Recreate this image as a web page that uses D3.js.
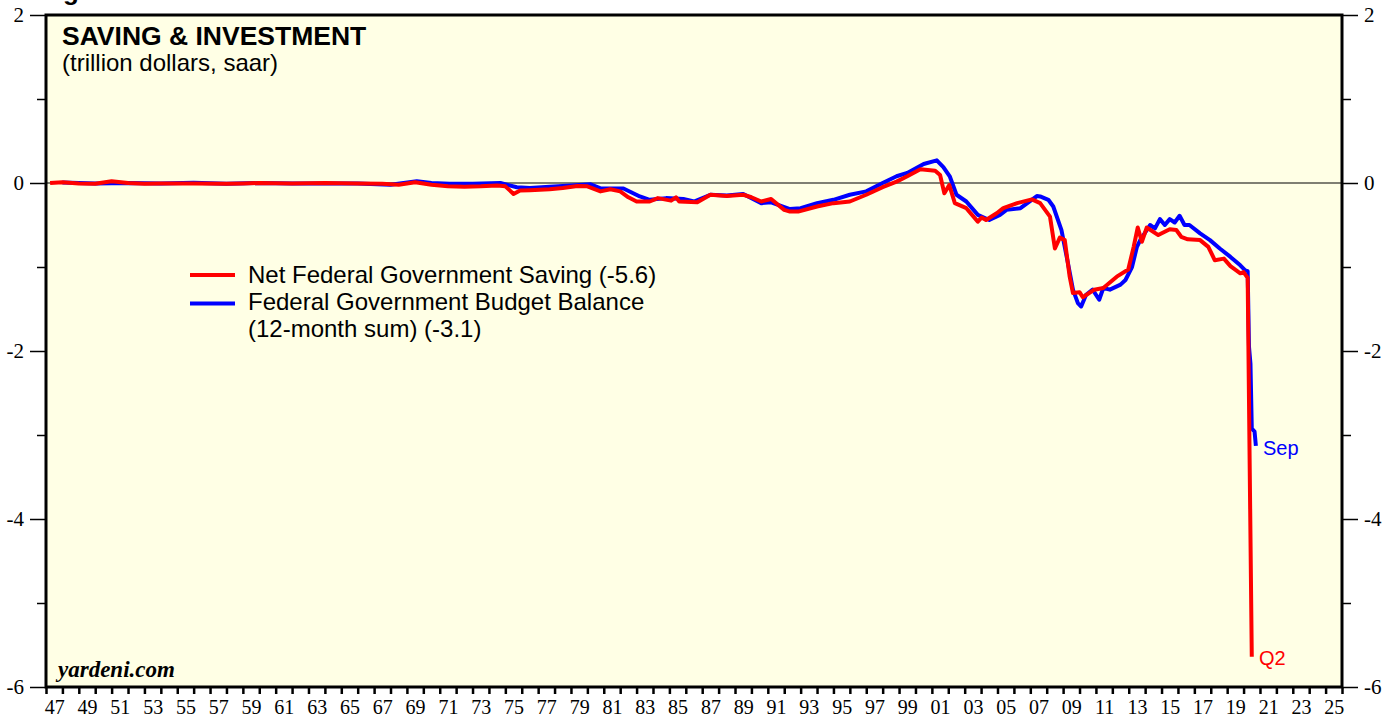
<!DOCTYPE html>
<html>
<head>
<meta charset="utf-8">
<script src="https://cdn.jsdelivr.net/npm/d3@7"></script>
<style>
html,body{margin:0;padding:0;background:#fff;}
svg{display:block;}
</style>
</head>
<body>
<svg id="chart" width="1397" height="721"></svg>
<script>
// ---- Data (trillion dollars, saar) ----
// Net Federal Government Saving (quarterly)
const savingYears = [1947.25,1948,1949,1950,1951,1952,1953,1954,1956,1958,1959,1960,1962,1964,1966,1967.5,1968.5,1969.5,1970.5,1971.5,1972.5,1973.5,1974.5,1975.0,1975.5,1975.9,1976.5,1977.7,1978.5,1979.4,1980.0,1980.8,1981.4,1982.0,1982.5,1983.0,1983.8,1984.3,1985.1,1985.4,1985.6,1986.7,1987.5,1988.5,1989.5,1990.0,1990.6,1991.2,1992.0,1992.35,1992.85,1994.0,1995.0,1996.0,1997.0,1998.0,1998.85,1999.5,2000.07,2000.3,2001.2,2001.5,2001.76,2002.06,2002.4,2003.1,2003.8,2004.04,2004.3,2004.95,2005.35,2006.2,2007.1,2007.6,2008.2,2008.5,2008.8,2009.1,2009.4,2009.6,2010.0,2010.2,2010.9,2011.45,2012.27,2012.97,2013.3,2013.55,2013.8,2014.1,2014.8,2015.5,2015.9,2016.2,2016.6,2017.35,2017.85,2018.25,2018.8,2019.2,2019.8,2020.0,2020.25,2020.5];
const savingValues = [0.00,0.01,-0.005,-0.01,0.02,0.00,-0.01,-0.005,-0.005,-0.01,-0.005,0.0,-0.005,0.0,-0.005,-0.01,-0.02,0.01,-0.02,-0.04,-0.045,-0.04,-0.03,-0.04,-0.13,-0.09,-0.085,-0.075,-0.06,-0.036,-0.04,-0.10,-0.075,-0.10,-0.17,-0.22,-0.22,-0.18,-0.21,-0.17,-0.22,-0.23,-0.14,-0.155,-0.14,-0.17,-0.22,-0.19,-0.32,-0.34,-0.34,-0.28,-0.24,-0.22,-0.14,-0.05,0.016,0.08,0.14,0.163,0.147,0.095,-0.123,-0.024,-0.24,-0.30,-0.46,-0.41,-0.44,-0.36,-0.30,-0.24,-0.195,-0.24,-0.40,-0.78,-0.65,-0.68,-1.115,-1.31,-1.30,-1.36,-1.27,-1.25,-1.115,-1.03,-0.76,-0.53,-0.70,-0.53,-0.62,-0.55,-0.56,-0.64,-0.67,-0.68,-0.76,-0.92,-0.90,-0.99,-1.075,-1.06,-1.13,-5.64];

// Federal Government Budget Balance, 12-month sum (monthly)
const budgetYears = [1948,1950,1952,1954,1956,1958,1960,1962,1964,1966,1968,1969.6,1970.5,1971.6,1973,1974.7,1975.7,1976.5,1977.7,1979,1980.2,1980.8,1982.2,1983.2,1983.8,1984.8,1985.85,1986.5,1987.5,1988.5,1989.5,1990.6,1991.2,1992.35,1993.0,1994.0,1995.0,1996.0,1997.0,1998.0,1998.85,1999.5,2000.5,2001.3,2001.7,2002.1,2002.5,2003.1,2003.8,2004.5,2005.15,2005.55,2006.4,2007.4,2007.6,2008.1,2008.4,2008.9,2009.3,2009.6,2009.9,2010.1,2010.4,2010.8,2011.2,2011.45,2011.85,2012.5,2012.8,2013.2,2013.5,2013.7,2014.3,2014.6,2014.9,2015.2,2015.5,2015.8,2016.1,2016.4,2016.7,2017.35,2017.95,2018.55,2019.2,2019.8,2020.1,2020.25,2020.33,2020.42,2020.5,2020.58,2020.67,2020.75];
const budgetValues = [0.005,-0.005,0.0,-0.005,0.003,-0.01,0.0,-0.005,-0.005,-0.005,-0.02,0.02,0.0,-0.01,-0.01,0.0,-0.05,-0.06,-0.045,-0.03,-0.015,-0.065,-0.065,-0.16,-0.20,-0.18,-0.19,-0.22,-0.14,-0.15,-0.13,-0.24,-0.23,-0.31,-0.30,-0.24,-0.20,-0.14,-0.10,0.00,0.08,0.12,0.226,0.27,0.19,0.075,-0.14,-0.22,-0.38,-0.44,-0.38,-0.32,-0.30,-0.155,-0.16,-0.20,-0.28,-0.56,-0.96,-1.27,-1.43,-1.47,-1.33,-1.27,-1.39,-1.25,-1.27,-1.21,-1.155,-1.0,-0.76,-0.68,-0.50,-0.54,-0.43,-0.50,-0.43,-0.47,-0.39,-0.50,-0.50,-0.60,-0.68,-0.78,-0.88,-0.98,-1.04,-1.05,-1.95,-2.15,-2.92,-2.94,-2.96,-3.13];

const yTicks = [2,0,-2,-4,-6];
const yMinorTicks = [1,-1,-3,-5];
const xTickYears = d3.range(1947, 2027);
const xLabelYears = d3.range(1947, 2026, 2);

const seriesNames = ["Net Federal Government Saving (-5.6)", "Federal Government Budget Balance", "(12-month sum) (-3.1)"];

// ---- Layout ----
const svg = d3.select("#chart");
const L = 46, R = 1342, T = 15, B = 687;
const x = d3.scaleLinear().domain([1947, 2026]).range([L, R]);
const y = d3.scaleLinear().domain([-6, 2]).range([B, T]);

// cropped heading above (cut off at the top edge, as in the original)
svg.append("text").attr("x", 63).attr("y", 0).attr("font-family", "Liberation Sans, Arial, sans-serif")
  .attr("font-weight", "bold").attr("font-size", 26).text("g");

// plot background
svg.append("rect").attr("x", L).attr("y", T).attr("width", R - L).attr("height", B - T).attr("fill", "#ffffe5");

// zero line
svg.append("line").attr("x1", L).attr("x2", R).attr("y1", y(0)).attr("y2", y(0)).attr("stroke", "#000").attr("stroke-width", 1.2);

// Axes
const serif = "Liberation Serif, Times New Roman, serif";
const leftAxis = d3.axisLeft(y).tickValues(yTicks).tickSize(16).tickPadding(6).tickFormat(d3.format("d"));
const gl = svg.append("g").attr("transform", `translate(${L},0)`).call(leftAxis);
const rightAxis = d3.axisRight(y).tickValues(yTicks).tickSize(16).tickPadding(6).tickFormat(d3.format("d"));
const gr = svg.append("g").attr("transform", `translate(${R},0)`).call(rightAxis);
[gl, gr].forEach(g => {
  g.select(".domain").remove();
  g.selectAll("line").attr("stroke", "#000").attr("stroke-width", 1.5);
  g.selectAll("text").attr("font-family", serif).attr("font-size", 21).attr("fill", "#000");
});
gl.selectAll("text").text(d => d < 0 ? "-" + Math.abs(d) : d);
gr.selectAll("text").text(d => d < 0 ? "-" + Math.abs(d) : d);
const gml = svg.append("g").attr("transform", `translate(${L},0)`).call(d3.axisLeft(y).tickValues(yMinorTicks).tickSize(9).tickFormat(""));
const gmr = svg.append("g").attr("transform", `translate(${R},0)`).call(d3.axisRight(y).tickValues(yMinorTicks).tickSize(9).tickFormat(""));
[gml, gmr].forEach(g => { g.select(".domain").remove(); g.selectAll("line").attr("stroke", "#000").attr("stroke-width", 1.5); });

// bottom axis: ticks every year, labels centred in the year
const gb = svg.append("g").attr("transform", `translate(0,${B})`)
  .call(d3.axisBottom(x).tickValues(xTickYears).tickSize(7).tickFormat(""));
gb.select(".domain").remove();
gb.selectAll("line").attr("stroke", "#000").attr("stroke-width", 2.5);
const gbl = svg.append("g").attr("transform", `translate(0,${B})`)
  .call(d3.axisBottom(x.copy().domain([1946.5, 2025.5])).tickValues(xLabelYears).tickSize(0).tickPadding(13)
    .tickFormat(d => String(d % 100).padStart(2, "0")));
gbl.select(".domain").remove();
gbl.selectAll("text").attr("font-family", serif).attr("font-size", 20).attr("fill", "#000");

// frame
svg.append("rect").attr("x", L).attr("y", T).attr("width", R - L).attr("height", B - T)
  .attr("fill", "none").attr("stroke", "#000").attr("stroke-width", 3);

// lines
const line = d3.line().x(d => x(d[0])).y(d => y(d[1]));
const budget = budgetYears.map((t, i) => [t, budgetValues[i]]);
const saving = savingYears.map((t, i) => [t, savingValues[i]]);
svg.append("path").datum(budget).attr("d", line).attr("fill", "none").attr("stroke", "#0000ff").attr("stroke-width", 4).attr("stroke-linejoin", "round");
svg.append("path").datum(saving).attr("d", line).attr("fill", "none").attr("stroke", "#ff0000").attr("stroke-width", 4).attr("stroke-linejoin", "round");

// titles
const sans = "Liberation Sans, Arial, Helvetica, sans-serif";
svg.append("text").attr("x", 62).attr("y", 45).attr("font-family", sans).attr("font-weight", "bold").attr("font-size", 26.5).text("SAVING & INVESTMENT");
svg.append("text").attr("x", 62).attr("y", 71).attr("font-family", sans).attr("font-size", 24).text("(trillion dollars, saar)");

// legend
svg.append("line").attr("x1", 190).attr("x2", 235).attr("y1", 275).attr("y2", 275).attr("stroke", "#ff0000").attr("stroke-width", 4);
svg.append("line").attr("x1", 190).attr("x2", 235).attr("y1", 303.5).attr("y2", 303.5).attr("stroke", "#0000ff").attr("stroke-width", 4);
svg.append("text").attr("x", 248).attr("y", 283).attr("font-family", sans).attr("font-size", 24).text(seriesNames[0]);
svg.append("text").attr("x", 248).attr("y", 310).attr("font-family", sans).attr("font-size", 24).text(seriesNames[1]);
svg.append("text").attr("x", 248).attr("y", 336.5).attr("font-family", sans).attr("font-size", 24).text(seriesNames[2]);

// end labels
svg.append("text").attr("x", 1263).attr("y", 455).attr("font-family", sans).attr("font-size", 20).attr("fill", "#0000ff").text("Sep");
svg.append("text").attr("x", 1259).attr("y", 665).attr("font-family", sans).attr("font-size", 20).attr("fill", "#ff0000").text("Q2");

// watermark
svg.append("text").attr("x", 58).attr("y", 677).attr("font-family", serif).attr("font-weight", "bold").attr("font-style", "italic").attr("font-size", 23).text("yardeni.com");
</script>
</body>
</html>
